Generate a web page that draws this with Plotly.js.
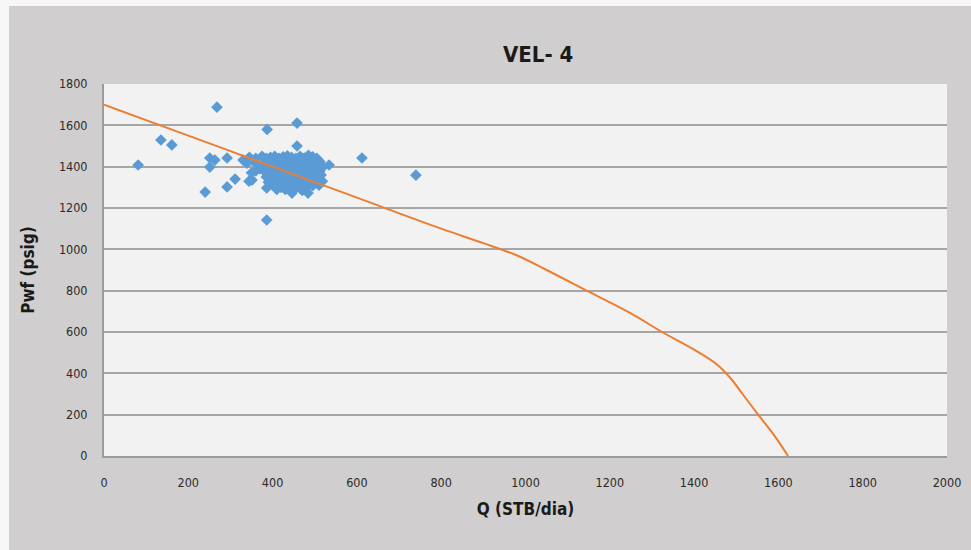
<!DOCTYPE html>
<html>
<head>
<meta charset="utf-8">
<script src="https://cdn.plot.ly/plotly-3.0.1.min.js"></script>
<style>
html,body{margin:0;padding:0;background:#f7f7f7;width:971px;height:550px;overflow:hidden;}
#chart{position:absolute;left:9px;top:6px;width:962px;height:544px;}
</style>
</head>
<body>
<div id="chart"></div>
<script>
// Measured data (Q in STB/dia, Pwf in psig)
const measQ = [81,135,161,268,240,251,263,251,292,292,311,330,339,344,387,386,458,458,534,612,740,449,351,
375,385,395,405,415,425,435,445,455,465,475,485,495,505,
380,392,402,412,422,432,442,452,462,472,482,492,502,512,
378,388,398,408,418,428,438,448,458,468,478,488,498,508,
382,392,402,412,422,432,442,452,462,472,482,492,502,512,
385,395,405,415,425,435,445,455,465,475,485,495,505,
390,400,410,420,430,440,450,460,470,480,490,500,
405,420,435,450,465,480,495,
386,446,484,470,430,410,
360,352,345,365,370,360,350,
520,515,518,510];
const measP = [1408,1529,1505,1688,1277,1442,1432,1398,1442,1302,1340,1432,1417,1330,1580,1142,1611,1500,1408,1442,1359,1287,1335,
1450,1440,1445,1450,1440,1448,1452,1445,1440,1450,1442,1455,1448,1440,
1420,1425,1415,1430,1420,1425,1418,1428,1420,1430,1422,1428,1418,1425,
1400,1395,1405,1398,1402,1392,1400,1395,1405,1398,1402,1395,1405,1398,
1375,1380,1370,1378,1372,1380,1375,1370,1378,1372,1380,1375,1370,1378,
1350,1355,1345,1352,1348,1355,1350,1345,1352,1348,1355,1350,1345,
1325,1330,1322,1328,1320,1330,1325,1320,1328,1322,1330,1325,
1305,1300,1308,1302,1305,1300,1308,
1297,1272,1272,1285,1290,1290,
1440,1430,1445,1410,1390,1380,1370,
1400,1360,1330,1310];

// IPR curve
const iprQ = [0,200,400,600,800,900,980,1050,1150,1250,1324,1400,1450,1485,1515,1552,1590,1623];
const iprP = [1700,1550,1400,1250,1100,1030,970,900,795,690,600,515,450,380,300,200,100,0];

const xTicks = [0,200,400,600,800,1000,1200,1400,1600,1800,2000];
const yTicks = [0,200,400,600,800,1000,1200,1400,1600,1800];

const narrow = '"DejaVu Sans Condensed", "Liberation Sans Narrow", "Roboto Condensed", Arial, sans-serif';
const tickFont = {family: narrow, size:12.5, color:'#2a2a2a'};

Plotly.newPlot('chart', [
  {x: measQ, y: measP, type:'scatter', mode:'markers',
   marker:{symbol:'diamond', size:9, color:'#5b9bd5'}, showlegend:false, hoverinfo:'x+y'},
  {x: iprQ, y: iprP, type:'scatter', mode:'lines',
   line:{color:'#ed7d31', width:2, shape:'spline', smoothing:1}, showlegend:false}
], {
  width:962, height:544,
  paper_bgcolor:'#d0cece',
  plot_bgcolor:'#f2f2f2',
  margin:{l:95, r:24, t:78, b:94},
  title:{text:'<b>VEL- 4</b>', x:0.55, xref:'container', y:0.925, yref:'container',
         font:{family: narrow, size:22, color:'#1a1a1a'}},
  xaxis:{range:[0,2000], tickvals:xTicks, ticktext:xTicks.map(String), showgrid:false, zeroline:false,
         showline:true, linecolor:'#9a9a9a', linewidth:2, ticks:'', ticklabelstandoff:14, tickfont:tickFont,
         title:{text:'<b>Q (STB/dia)</b>', standoff:14, font:{family: narrow, size:17, color:'#1a1a1a'}}},
  yaxis:{range:[0,1800], tickvals:yTicks, ticktext:yTicks.map(String), showgrid:true, gridcolor:'#a6a6a6', gridwidth:2,
         zeroline:false, showline:true, linecolor:'#9a9a9a', linewidth:2, ticks:'', ticklabelstandoff:12, tickfont:tickFont,
         title:{text:'<b>Pwf (psig)</b>', standoff:20, font:{family: narrow, size:17, color:'#1a1a1a'}}},
  shapes:[{type:'line', xref:'paper', yref:'paper', x0:1.029, x1:1.05, y0:0.275, y1:0.275, line:{color:'#ed7d31', width:2}}]
}, {displayModeBar:false, staticPlot:true});
</script>
</body>
</html>
